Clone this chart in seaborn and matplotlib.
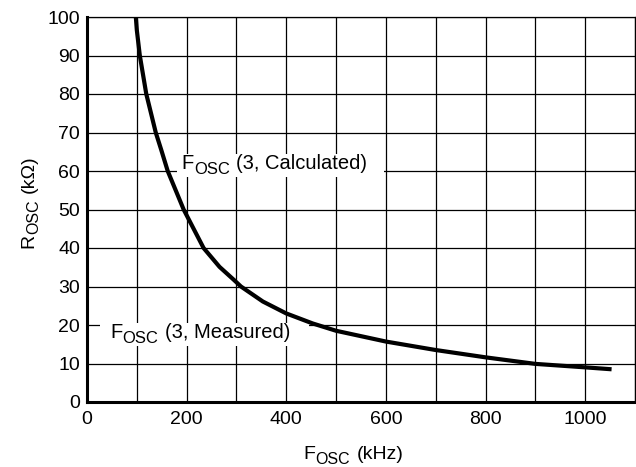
import matplotlib
matplotlib.use("Agg")
import matplotlib.pyplot as plt
import seaborn as sns
import pandas as pd
from matplotlib.ticker import MultipleLocator
from matplotlib.patches import Rectangle
from matplotlib.transforms import Bbox, IdentityTransform

# data
fosc_khz = [98, 100, 106, 119, 138, 149, 162, 194, 234, 266, 295, 309, 353, 400, 453, 500, 600, 700, 800, 900, 1000, 1053]
rosc_kohm = [100, 96.6, 90, 80, 70, 65.5, 60, 50, 40, 35.1, 31.7, 30, 26.1, 23.0, 20.4, 18.5, 15.7, 13.5, 11.6, 9.9, 9.0, 8.5]
x_ticks = [0, 200, 400, 600, 800, 1000]
y_ticks = [0, 10, 20, 30, 40, 50, 60, 70, 80, 90, 100]
calc_parts = ["F", "OSC", "(3, Calculated)"]
meas_parts = ["F", "OSC", "(3, Measured)"]
x_title_parts = ["F", "OSC", "(kHz)"]
y_title_parts = ["R", "OSC", "(k\u03a9)"]

df = pd.DataFrame({"F": fosc_khz, "R": rosc_kohm})

sns.set_style("white")
plt.rcParams["font.family"] = ["Liberation Sans", "DejaVu Sans"]

fig = plt.figure(figsize=(6.36, 4.67), dpi=100)
ax = fig.add_axes([87 / 636, 1 - 402 / 467, (635 - 87) / 636, (402 - 17) / 467])

sns.lineplot(data=df, x="F", y="R", ax=ax, color="black", linewidth=3.0, zorder=3)
for ln in ax.lines:
    ln.set_solid_joinstyle("round")
    ln.set_solid_capstyle("butt")

ax.set_xlim(0, 1100)
ax.set_ylim(0, 100)
ax.set_xticks(x_ticks)
ax.xaxis.set_minor_locator(MultipleLocator(100))
ax.set_yticks(y_ticks)
ax.grid(True, which="both", color="black", linewidth=0.9, zorder=1)
ax.set_axisbelow(True)
ax.tick_params(axis="both", which="both", length=0, labelsize=14, colors="black")
ax.tick_params(axis="x", pad=6.5)
ax.tick_params(axis="y", pad=5)
ax.set_xlabel("")
ax.set_ylabel("")

for side in ["left", "bottom"]:
    ax.spines[side].set_linewidth(2.2)
for side in ["top", "right"]:
    ax.spines[side].set_linewidth(0.9)
for s in ax.spines.values():
    s.set_color("black")
    s.set_zorder(4)

fig.canvas.draw()
renderer = fig.canvas.get_renderer()


def rich_label(xy, xycoords, parts, main_size, sub_size, rotation=0, box_pad=None):
    """Draw main text + subscript + rest, laid out along the reading direction."""
    specs = [(parts[0], main_size, 0.0, 0.0),
             (parts[1], sub_size, 5.0, 0.5),
             (parts[2], main_size, 0.0, 6.5)]
    adv = 0.0
    arts = []
    for text, size, drop, gap in specs:
        adv += gap
        off = (adv, -drop) if rotation == 0 else (drop, adv)
        a = ax.annotate(text, xy=xy, xycoords=xycoords, xytext=off,
                        textcoords="offset pixels", fontsize=size, ha="left",
                        va="baseline", rotation=rotation, rotation_mode="anchor",
                        zorder=5, annotation_clip=False, color="black")
        bb = a.get_window_extent(renderer)
        adv += bb.width if rotation == 0 else bb.height
        arts.append(a)
    if box_pad is not None:
        u = Bbox.union([a.get_window_extent(renderer) for a in arts])
        l, r, t, b = box_pad
        rect = Rectangle((u.x0 - l, u.y0 - b), u.width + l + r, u.height + t + b,
                         transform=IdentityTransform(), facecolor="white",
                         edgecolor="none", zorder=2.5)
        ax.add_artist(rect)
    return arts


rich_label((189.4, 60.4), "data", calc_parts, 14.5, 12, box_pad=(4, 17, 0, 0))
rich_label((46, 16.5), "data", meas_parts, 14.5, 12, box_pad=(10, 19, 0, 0))
rich_label((303.3, 467 - 459.3), "figure pixels", x_title_parts, 14, 11.5)
rich_label((33.3, 467 - 248.3), "figure pixels", y_title_parts, 14, 11.5, rotation=90)

fig.savefig("out.png", dpi=100)
